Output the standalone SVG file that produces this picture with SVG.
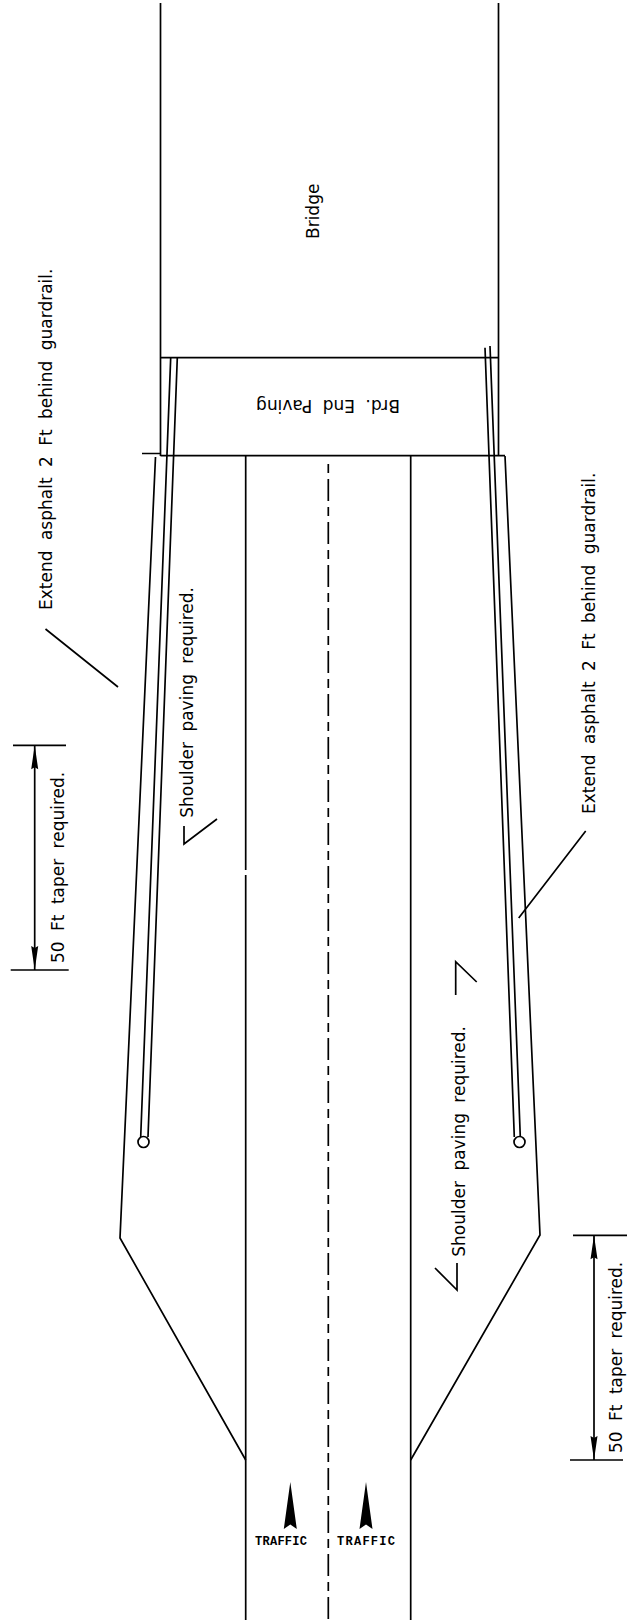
<svg xmlns="http://www.w3.org/2000/svg" width="627" height="1620" viewBox="0 0 627 1620">
<style>
.l{fill:none;stroke:#000;stroke-width:1.7}
.t{font-family:"DejaVu Sans",sans-serif;font-size:17px;fill:#000;word-spacing:5px}
.tr{font-family:"Liberation Mono",monospace;font-size:12px;font-weight:bold;fill:#000}
</style>
<defs>
<path id="traf" d="M0 0L6.500 47L0 42.500L-6.500 47Z" fill="#000"/>
<path id="dimUp" d="M0 0L3.500 24L0 22L-3.500 24Z" fill="#000"/>
</defs>
<rect width="627" height="1620" fill="#fff"/>
<g id="connectors">
<path class="l" d="M160.500 3V456M498.500 3V456M160.500 357.700H498.500M142 453.500H160.500M160.500 455.700H505"/>
<path class="l" d="M155.500 457L120 1238L245.700 1460M505 456L540 1235L410.700 1460"/>
<path class="l" d="M245.700 456V870M245.700 875V1620M410.700 456V1620"/>
<path class="l" stroke-dasharray="22 6 9 6" stroke-dashoffset="22" d="M328.300 458V1620"/>
<path class="l" d="M170.700 357.700L140.700 1137M177.300 357.700L148 1137M485 347.700L514.300 1137M490 346L520.300 1137"/>
<circle class="l" cx="143.500" cy="1142" r="5.500"/>
<circle class="l" cx="519.500" cy="1142" r="5.500"/>
<path class="l" d="M45.500 629L118 687M585.700 831L518.700 918"/>
<path class="l" d="M184 826V844L217 819M455.700 995V961.700L476.700 982M457 1263V1290L435 1268"/>
<path class="l" d="M13 745.300H66M10.700 970H68.700M34.700 745.300V970M573 1235.300H627M570 1460H623M594 1235.300V1460"/>
<use href="#dimUp" x="34.700" y="745.300"/>
<use href="#dimUp" transform="translate(34.700 970) scale(1 -1)"/>
<use href="#dimUp" x="594" y="1235.300"/>
<use href="#dimUp" transform="translate(594 1460) scale(1 -1)"/>
</g>
<g id="bridge"><text class="t" transform="translate(319 239) rotate(-90)">Bridge</text></g>
<g id="paving"><text class="t" transform="translate(400 400) rotate(180)">Brd. End Paving</text></g>
<g id="note-extend-left"><text class="t" transform="translate(52 610) rotate(-90)">Extend asphalt 2 Ft behind guardrail.</text></g>
<g id="note-extend-right"><text class="t" transform="translate(595 814) rotate(-90)">Extend asphalt 2 Ft behind guardrail.</text></g>
<g id="note-shoulder-left"><text class="t" transform="translate(192.700 817.700) rotate(-90)">Shoulder paving required.</text></g>
<g id="note-shoulder-right"><text class="t" transform="translate(465 1256.700) rotate(-90)">Shoulder paving required.</text></g>
<g id="note-taper-left"><text class="t" transform="translate(64 963) rotate(-90)">50 Ft taper required.</text></g>
<g id="note-taper-right"><text class="t" transform="translate(622 1453) rotate(-90)">50 Ft taper required.</text></g>
<g id="traffic-left"><use href="#traf" x="290.300" y="1482"/><text class="tr" x="255" y="1545" textLength="52">TRAFFIC</text></g>
<g id="traffic-right"><use href="#traf" x="366" y="1482"/><text class="tr" x="337" y="1545" textLength="58">TRAFFIC</text></g>
</svg>
